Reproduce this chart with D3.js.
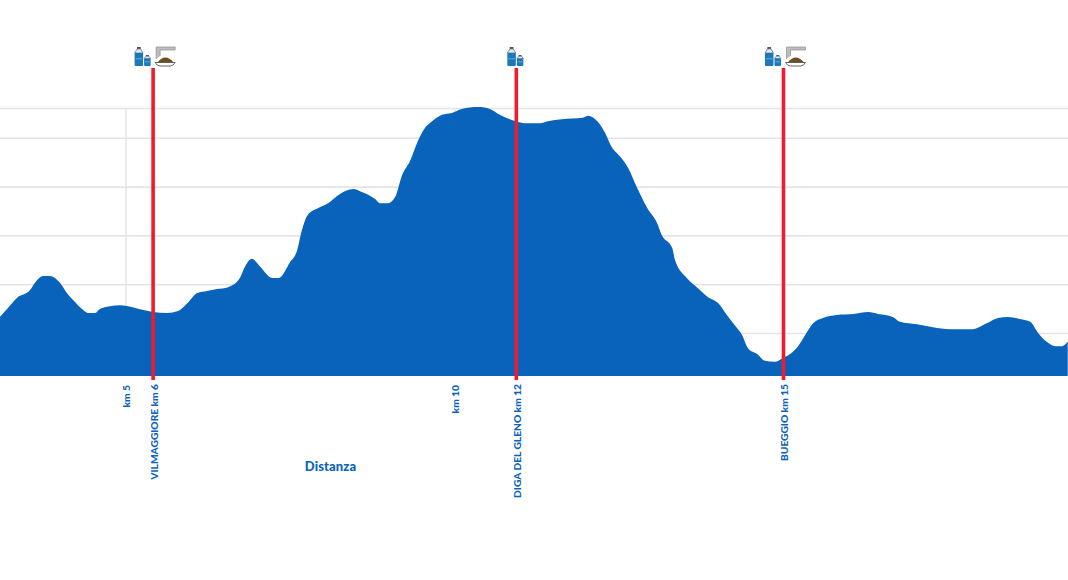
<!DOCTYPE html>
<html>
<head>
<meta charset="utf-8">
<script src="https://cdn.jsdelivr.net/npm/d3@7"></script>
<style>
  html, body { margin: 0; padding: 0; background: #fff; overflow: hidden; }
  svg { display: block; }
  text { font-family: Lato, "Open Sans", sans-serif; font-weight: 900; fill: #0a63bb; }
</style>
</head>
<body>
<svg id="profile"></svg>
<script>
// elevation profile
var profileKm = [3.09,3.21,3.35,3.55,3.63,3.75,3.85,4.01,4.11,4.23,4.34,4.43,4.54,4.61,4.76,4.92,5.11,5.27,5.42,5.63,5.80,5.94,6.09,6.24,6.39,6.56,6.73,6.82,6.92,7.04,7.23,7.33,7.50,7.61,7.67,7.77,7.93,8.08,8.26,8.46,8.59,8.79,8.87,8.99,9.10,9.20,9.33,9.43,9.55,9.66,9.81,9.96,10.11,10.36,10.54,10.69,10.84,10.93,11.07,11.30,11.42,11.63,11.95,12.03,12.17,12.29,12.39,12.52,12.64,12.77,12.93,13.08,13.15,13.31,13.35,13.53,13.70,13.85,14.01,14.14,14.26,14.37,14.46,14.60,14.72,14.87,14.99,15.10,15.21,15.33,15.45,15.60,15.81,16.06,16.29,16.44,16.66,16.77,17.03,17.27,17.53,17.87,18.09,18.26,18.41,18.59,18.75,18.87,19.00,19.13,19.23,19.32];
var profileElev = [1033,1051,1072,1088,1104,1117,1117,1102,1082,1064,1049,1041,1041,1049,1055,1057,1053,1047,1043,1041,1045,1061,1082,1086,1090,1094,1111,1137,1152,1137,1113,1113,1145,1170,1205,1242,1256,1266,1285,1295,1289,1275,1266,1266,1279,1322,1354,1389,1420,1434,1447,1451,1459,1463,1459,1447,1438,1434,1430,1430,1434,1438,1441,1445,1434,1410,1381,1361,1338,1299,1256,1225,1201,1174,1150,1113,1092,1074,1061,1037,1016,996,969,957,943,941,949,957,971,996,1020,1031,1037,1039,1043,1039,1033,1023,1018,1012,1008,1008,1020,1031,1033,1029,1023,1000,982,973,973,982];

// grid and distance ticks
var gridElev = [1000,1100,1200,1300,1400,1461];
var kmTicks = [5,10];

// ristori along the route
var stopNames = ["VILMAGGIORE km 6","DIGA DEL GLENO km 12","BUEGGIO km 15"];
var stopKm = [5.42,10.94,15.0];
var stopFood = [true,false,true];

var width = 1068,
    height = 580,
    plotTop = 108,
    plotBottom = 376;

var svg = d3.select("#profile")
  .attr("width", width)
  .attr("height", height);

var x = d3.scaleLinear().domain([3.093,19.324]).range([0,width]);
var y = d3.scaleLinear().domain([912,1461]).range([plotBottom,plotTop]);

// horizontal grid
var yGrid = svg.append("g")
  .call(d3.axisLeft(y).tickValues(gridElev).tickSize(-width).tickFormat(""));
yGrid.select(".domain").remove();
yGrid.selectAll("line").attr("stroke","#e4e4e4").attr("stroke-width",1.6);

// km ticks: vertical line + rotated label
var xAxis = svg.append("g")
  .attr("transform","translate(0," + plotBottom + ")")
  .call(d3.axisBottom(x).tickValues(kmTicks).tickSize(-(plotBottom-plotTop)).tickFormat(function(d){ return "km " + d; }));
xAxis.select(".domain").remove();
xAxis.selectAll("line").attr("stroke","#e4e4e4").attr("stroke-width",1.4);
xAxis.selectAll("text")
  .attr("transform","rotate(-90)")
  .attr("text-anchor","end")
  .attr("x",-9)
  .attr("y",0.5)
  .attr("dy","0.35em")
  .style("font-size","10.2px")
  .style("font-family","Lato")
  .style("font-weight","900");

// the profile
var data = profileKm.map(function(d,i){ return {km:d, elev:profileElev[i]}; });
var area = d3.area()
  .curve(d3.curveMonotoneX)
  .x(function(d){ return x(d.km); })
  .y0(plotBottom)
  .y1(function(d){ return y(d.elev); });
svg.append("path")
  .datum(data)
  .attr("d",area)
  .attr("fill","#0963bb");

// red lines and names of the stops
var stops = svg.selectAll(".stop")
  .data(stopKm)
  .enter()
  .append("g")
  .attr("class","stop")
  .attr("transform",function(d){ return "translate(" + x(d) + ",0)"; });

stops.append("line")
  .attr("y1",68)
  .attr("y2",380)
  .attr("stroke","#ee1c2e")
  .attr("stroke-width",3.6);

stops.append("text")
  .attr("transform","translate(1,384) rotate(-90)")
  .attr("text-anchor","end")
  .attr("dy","0.35em")
  .style("font-size","10.2px")
  .text(function(d,i){ return stopNames[i]; });

// little icons over the lines
function bottle(g,bx,by,w,h){
  g.append("rect").attr("x",bx).attr("y",by+h*0.32).attr("width",w).attr("height",h*0.68).attr("rx",1).attr("fill","#1c78b8");
  g.append("path").attr("d","M"+(bx+w*0.3)+","+(by+h*0.1)+"h"+(w*0.4)+"l"+(w*0.3)+","+(h*0.22)+"h"+(-w)+"z").attr("fill","#dcebf4").attr("stroke","#2a6f9f").attr("stroke-width",0.7);
  g.append("rect").attr("x",bx+w*0.28).attr("y",by).attr("width",w*0.44).attr("height",h*0.1).attr("fill","#8a3b44");
  g.append("line").attr("x1",bx+1).attr("x2",bx+w-1).attr("y1",by+h*0.62).attr("y2",by+h*0.62).attr("stroke","#7fb8dc").attr("stroke-width",0.8);
}
function food(g,fx,fy){
  g.append("path").attr("d","M"+(fx+1)+","+(fy+13)+"V"+(fy+1)+"H"+(fx+20)+"V"+(fy+4)+"H"+(fx+5)+"V"+(fy+10)).attr("fill","#bdbdbd").attr("stroke","#8c8c8c").attr("stroke-width",0.7);
  g.append("path").attr("d","M"+(fx+2)+","+(fy+17)+"Q"+(fx+10)+","+(fy+6)+" "+(fx+19)+","+(fy+17)+"z").attr("fill","#6f4e1d");
  g.append("path").attr("d","M"+fx+","+(fy+16.5)+"H"+(fx+20)+"Q"+(fx+18)+","+(fy+20)+" "+(fx+15)+","+(fy+20)+"H"+(fx+5)+"Q"+(fx+2)+","+(fy+20)+" "+fx+","+(fy+16.5)+"z").attr("fill","#fff").attr("stroke","#555").attr("stroke-width",0.9);
}
stops.each(function(d,i){
  var hasFood = stopFood[i];
  var g = d3.select(this).append("g")
    .attr("transform","translate(" + (hasFood ? -18.5 : -9) + ",0)");
  bottle(g,0,47,8.5,19);
  bottle(g,9.5,55,6.5,11);
  if (hasFood) food(g,20.5,46);
});

// axis title
svg.append("text")
  .attr("x",330.5)
  .attr("y",471)
  .attr("text-anchor","middle")
  .style("font-size","13px")
  .style("letter-spacing","0.1px")
  .text("Distanza");
</script>
</body>
</html>
